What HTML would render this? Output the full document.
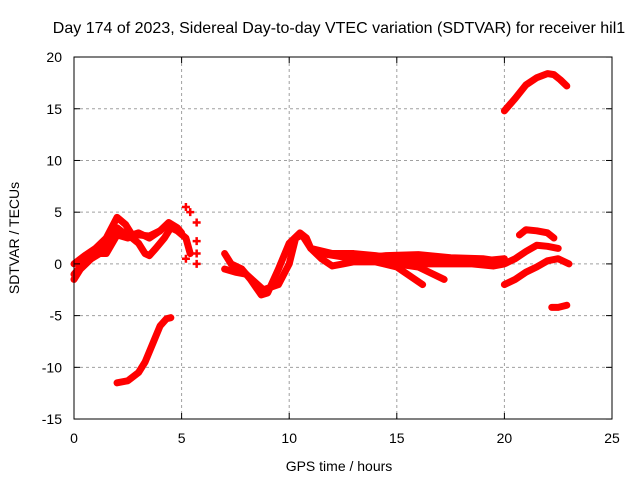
<!DOCTYPE html>
<html><head><meta charset="utf-8"><style>
body{margin:0;background:#fff}
svg{display:block;font-family:"Liberation Sans",sans-serif;font-size:14px}
</style></head><body>
<svg id="chart" width="640" height="480">
<text x="339" y="33" text-anchor="middle" style="font-size:16px">Day 174 of 2023, Sidereal Day-to-day VTEC variation (SDTVAR) for receiver hil1</text>
<text x="339" y="471" text-anchor="middle">GPS time / hours</text>
<text transform="translate(19,238) rotate(-90)" text-anchor="middle">SDTVAR / TECUs</text>
<g id="grid"></g><g id="marks"></g><g id="axes"></g>
</svg>
<script>
const xTicks=[0,5,10,15,20,25];
const yTicks=[-15,-10,-5,0,5,10,15,20];
const trackA=[[0,-1.5],[0.3,-0.5],[0.8,0.5],[1.2,1],[1.5,2.2],[2,3.5],[2.3,3],[2.7,2.5],[3,2],[3.3,1],[3.5,0.8],[3.8,1.5],[4.2,2.5],[4.5,3.5],[4.8,3.2],[5.2,2.5],[5.4,1]];
const trackB=[[0,0],[0.5,0.8],[1,1.5],[1.5,2.5],[2,4.5],[2.4,3.8],[2.7,2.8],[3,3],[3.5,2.5],[4,3.2],[4.4,4],[4.8,3.5],[5,3]];
const trackC=[[0,-1],[0.5,0.2],[1,1],[1.5,1],[2,2.8],[2.5,2.5],[3,2.8],[3.5,2.7],[4,3.2]];
const trackNeg=[[2,-11.5],[2.5,-11.3],[3,-10.5],[3.3,-9.5],[3.7,-7.5],[4,-6],[4.3,-5.3],[4.5,-5.2]];
const trackD=[[7,1],[7.3,0],[7.8,-0.5],[8.2,-1.5],[8.7,-3],[9,-2.8],[9.5,-0.5],[10,2],[10.5,3],[10.8,2.5],[11,1.5],[12,1],[13,1],[14,0.8],[15,0.5],[16,0.5],[17,0.3],[18,0.3],[19,0.3],[20,0.5]];
const trackE=[[7,-0.5],[7.5,-0.8],[8,-1],[8.8,-2.5],[9.5,-2],[10,0],[10.3,2.5],[10.6,2.8],[11,1.5],[11.5,0.5],[12,-0.2],[12.5,0],[13,0.2],[14,0.2],[15,-0.3],[16.2,-2]];
const trackF=[[14,0.5],[15,0],[16,-0.3],[17.2,-1.5]];
const trackG=[[15,0],[17,0],[18.5,0],[19.5,-0.2],[20,0],[20.5,0.5],[21,1.2],[21.5,1.8],[22,1.7],[22.5,1.5]];
const trackK=[[11.5,1],[13,0.5],[14.5,0.8],[16,0.9],[17.5,0.6],[19,0.5],[20,0.2]];
const trackH=[[20,-2],[20.5,-1.5],[21,-0.8],[21.5,-0.3],[22,0.3],[22.5,0.5],[23,0]];
const trackI=[[20.7,2.8],[21,3.3],[21.5,3.2],[22,3],[22.3,2.5]];
const trackJ=[[22.2,-4.2],[22.5,-4.2],[22.9,-4]];
const trackTop=[[20,14.8],[20.5,16],[21,17.3],[21.5,18],[22,18.4],[22.3,18.3],[22.6,17.8],[22.9,17.2]];
const scatter=[[5.2,5.5],[5.4,5],[5.7,4],[5.7,2.2],[5.7,1],[5.7,0],[5.2,0.5]];
const tracks=[trackA,trackB,trackC,trackNeg,trackD,trackE,trackF,trackG,trackK,trackH,trackI,trackJ,trackTop];
const X=h=>74+h*21.52, Y=v=>263.9-v*10.343;
const NS="http://www.w3.org/2000/svg";
const mk=(t,a,p)=>{const e=document.createElementNS(NS,t);for(const k in a)e.setAttribute(k,a[k]);p.appendChild(e);return e;};
const grid=document.getElementById('grid'),axes=document.getElementById('axes'),marks=document.getElementById('marks');
xTicks.forEach(t=>{
 if(t>0&&t<25){const l=mk('line',{x1:X(t),x2:X(t),y1:57,y2:419,stroke:'#a0a0a0','stroke-dasharray':'3,3'},grid);
 
 }
 const tx=mk('text',{x:X(t),y:443,'text-anchor':'middle'},axes);tx.textContent=t;
 
 
 mk('line',{x1:X(t),x2:X(t),y1:419,y2:413,stroke:'#000'},axes);
 mk('line',{x1:X(t),x2:X(t),y1:57,y2:63,stroke:'#000'},axes);
});
yTicks.forEach(t=>{
 if(t>-15&&t<20){const l=mk('line',{x1:74,x2:612,y1:Y(t),y2:Y(t),stroke:'#a0a0a0','stroke-dasharray':'3,3'},grid);
 
 }
 const tx=mk('text',{x:62,y:Y(t)+5,'text-anchor':'end'},axes);tx.textContent=t;
 
 
 mk('line',{x1:74,x2:80,y1:Y(t),y2:Y(t),stroke:'#000'},axes);
 mk('line',{x1:612,x2:606,y1:Y(t),y2:Y(t),stroke:'#000'},axes);
});
const fr=mk('rect',{x:74,y:57,width:538,height:362,fill:'none',stroke:'#000'},axes);


tracks.forEach(tr=>{
 const p=mk('polyline',{points:tr.map(d=>X(d[0])+','+Y(d[1])).join(' '),fill:'none',stroke:'#ff0000','stroke-width':7,'stroke-linejoin':'round','stroke-linecap':'round'},marks);
 
 
});
scatter.forEach(d=>{
 const p=mk('path',{d:`M${X(d[0])-4},${Y(d[1])}h8M${X(d[0])},${Y(d[1])-4}v8`,stroke:'#ff0000','stroke-width':2.5},marks);
 
 
});
</script>
</body></html>
